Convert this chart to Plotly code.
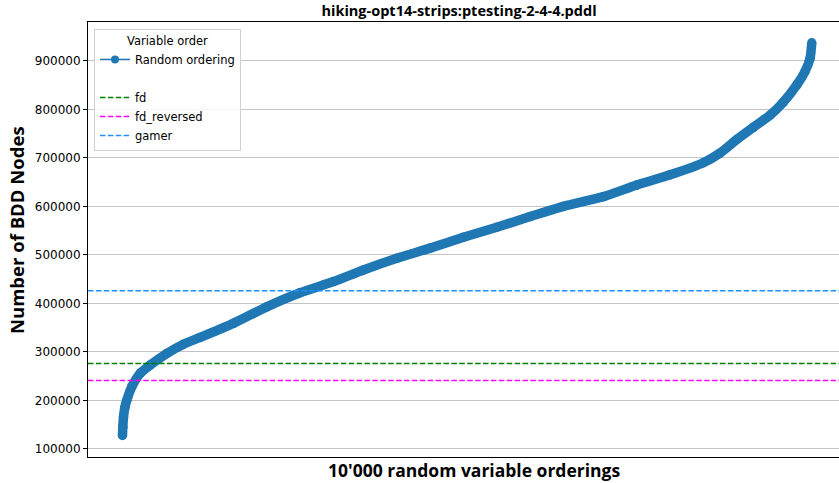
import plotly.graph_objects as go

# ---- data ----
order_index = [0, 5, 15, 35, 64, 136, 257, 402, 644, 885, 1127, 1610, 2093, 2577,
               3060, 3495, 3980, 4463, 4946, 5430, 5913, 6396, 6976, 7460, 7944,
               8426, 8669, 8911, 9151, 9394, 9587, 9781, 9901, 9974, 9999]
bdd_nodes = [128000, 145000, 166000, 186000, 201000, 228500, 256000, 273000, 297000,
             316000, 330000, 359000, 393000, 422000, 445000, 469000, 493000, 514000,
             536500, 557000, 579000, 600000, 620000, 644000, 665000, 690000, 710000,
             738000, 763000, 788000, 815000, 850000, 878000, 905000, 937000]
ref_names = ["fd", "fd_reversed", "gamer"]
ref_values = [276000, 241000, 426000]
ref_colors = ["#008000", "#FF00FF", "#1E90FF"]
y_ticks = [100000, 200000, 300000, 400000, 500000, 600000, 700000, 800000, 900000]
n_orderings = 10000

title_text = "hiking-opt14-strips:ptesting-2-4-4.pddl"
x_title = "10'000 random variable orderings"
y_title = "Number of BDD Nodes"

W, H = 839, 483
ML, MT, MB, MR = 88, 22, 26, 0
PW, PH = W - ML - MR, H - MT - MB

def px_x(px):
    return (px - ML) / PW

def px_y(py):
    return (H - MB - py) / PH

blue = "#1f77b4"
fig = go.Figure()

# main curve (thick line of overlapping markers)
fig.add_trace(go.Scatter(
    x=order_index, y=bdd_nodes, mode="lines+markers",
    line=dict(color=blue, width=9.5, shape="spline", smoothing=0.6),
    marker=dict(color=blue, size=9.5),
    showlegend=False, hoverinfo="skip"))

# legend entries
fig.add_trace(go.Scatter(
    x=[None], y=[None], mode="lines+markers", name="Random ordering",
    line=dict(color=blue, width=1.5), marker=dict(color=blue, size=8)))
fig.add_trace(go.Scatter(
    x=[None], y=[None], mode="lines", name=" ",
    line=dict(color="rgba(0,0,0,0)", width=1.5)))

x_lo, x_hi = -500, 10394
for name, val, col in zip(ref_names, ref_values, ref_colors):
    fig.add_trace(go.Scatter(
        x=[x_lo, x_hi], y=[val, val], mode="lines", name=name,
        line=dict(color=col, width=1.5, dash="5.5px,2.4px"),
        hoverinfo="skip"))

fig.update_layout(
    width=W, height=H,
    margin=dict(l=ML, r=MR, t=MT, b=MB),
    paper_bgcolor="white", plot_bgcolor="white",
    font=dict(family="DejaVu Sans", size=12, color="#000000"),
    title=dict(text="<b>" + title_text + "</b>",
               font=dict(family="Open Sans", size=14.5, color="#000000"),
               xref="paper", x=px_x(459), xanchor="center",
               yref="container", y=1 - 11 / H, yanchor="middle"),
    xaxis=dict(range=[x_lo, x_hi], showticklabels=False, ticks="",
               showgrid=False, zeroline=False,
               showline=True, linecolor="#000000", linewidth=1, mirror=True),
    yaxis=dict(range=[83500, 980000], tickvals=y_ticks,
               ticktext=[str(v) for v in y_ticks],
               ticks="outside", ticklen=4, tickcolor="#000000",
               tickfont=dict(family="DejaVu Sans", size=12, color="#000000"),
               showgrid=True, gridcolor="#c4c4c4", gridwidth=1,
               zeroline=False,
               showline=True, linecolor="#000000", linewidth=1, mirror=True),
    legend=dict(
        x=px_x(94), y=px_y(29), xanchor="left", yanchor="top",
        bgcolor="rgba(255,255,255,0.85)", bordercolor="#d0d0d0", borderwidth=1,
        font=dict(family="DejaVu Sans", size=11.5, color="#000000"),
        title=dict(text="Variable order", side="top center",
                   font=dict(family="DejaVu Sans", size=11.5, color="#000000")),
        itemwidth=30, tracegroupgap=0),
    annotations=[
        dict(text="<b>" + y_title + "</b>", xref="paper", yref="paper",
             x=px_x(16), y=px_y(230), xanchor="center", yanchor="middle",
             textangle=-90, showarrow=False,
             font=dict(family="Open Sans", size=18.5, color="#000000")),
        dict(text="<b>" + x_title + "</b>", xref="paper", yref="paper",
             x=px_x(474), y=px_y(470), xanchor="center", yanchor="middle",
             showarrow=False,
             font=dict(family="Open Sans", size=17.5, color="#000000")),
    ],
)

fig.write_html(
    "out.html",
    config={"displayModeBar": False},
    post_script="document.body.style.margin='0';document.body.style.overflow='hidden';")
